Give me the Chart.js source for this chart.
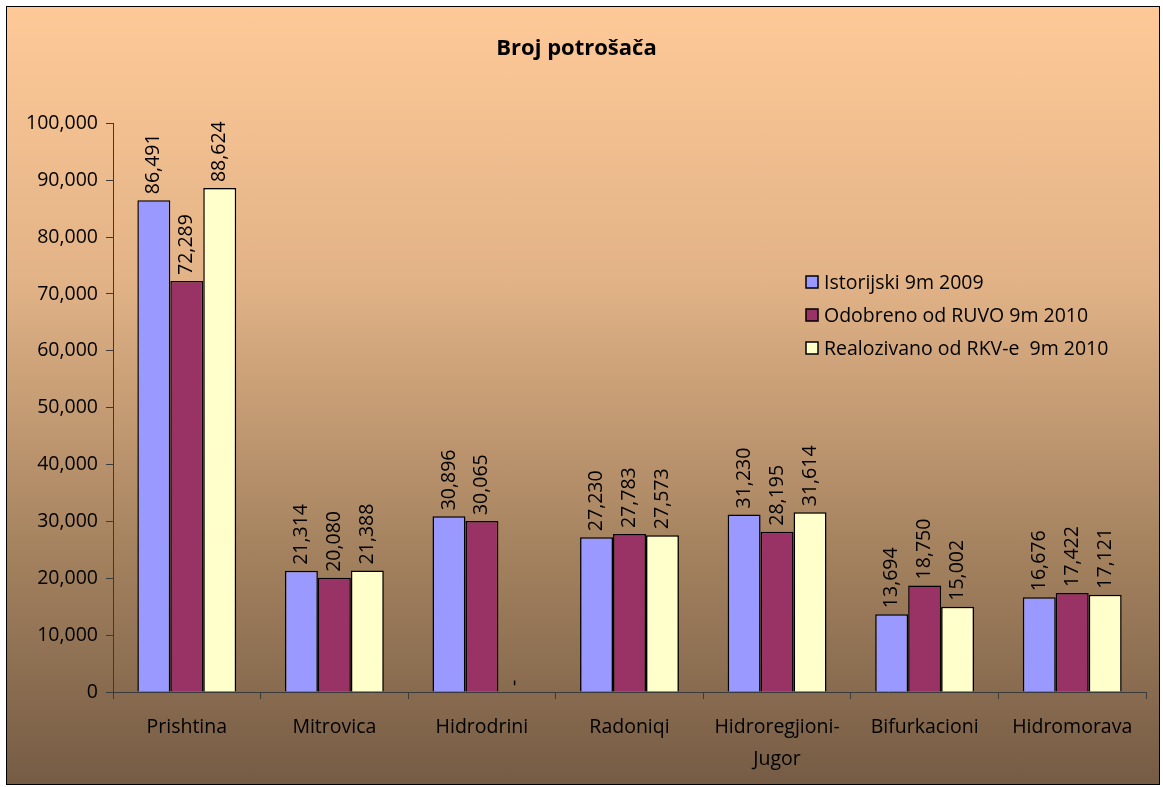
<!DOCTYPE html>
<html>
<head>
<meta charset="utf-8">
<script src="https://cdn.jsdelivr.net/npm/chart.js@4.4.0/dist/chart.umd.min.js"></script>
<style>
  html, body { margin: 0; padding: 0; background: #fff; }
  #box {
    position: absolute; left: 6px; top: 6px;
    width: 1152px; height: 777px;
    border: 1px solid #000;
    background: linear-gradient(to bottom, #fec997 0%, #e2b387 35%, #a4825f 70%, #765c45 100%);
  }
  canvas { display: block; }
</style>
</head>
<body>
<div id="box"><canvas id="chart" width="1152" height="777"></canvas></div>
<script>
// kategorije i vrijednosti
const categories = ['Prishtina', 'Mitrovica', 'Hidrodrini', 'Radoniqi', ['Hidroregjioni-', 'Jugor'], 'Bifurkacioni', 'Hidromorava'];
const seriesNames = ['Istorijski 9m 2009', 'Odobreno od RUVO 9m 2010', 'Realozivano od RKV-e  9m 2010'];
const istorijski = [86491, 21314, 30896, 27230, 31230, 13694, 16676];
const odobreno = [72289, 20080, 30065, 27783, 28195, 18750, 17422];
const realizovano = [88624, 21388, null, 27573, 31614, 15002, 17121];
const colors = ['#9999ff', '#993366', '#ffffcc'];

const FONT = '"Open Sans", "Noto Sans", sans-serif';
const FS = 19.5;

// oznake vrijednosti iznad stubaca (rotirano)
const valueLabels = {
  id: 'valueLabels',
  afterDatasetsDraw(chart) {
    const ctx = chart.ctx;
    const yScale = chart.scales.y;
    ctx.save();
    ctx.font = FS + 'px ' + FONT;
    ctx.fillStyle = '#000';
    ctx.textAlign = 'left';
    ctx.textBaseline = 'middle';
    chart.data.datasets.forEach((ds, di) => {
      chart.getDatasetMeta(di).data.forEach((bar, i) => {
        const v = ds.data[i];
        const top = v == null ? yScale.getPixelForValue(0) : bar.y;
        const text = v == null ? '-' : v.toLocaleString('en-US');
        ctx.save();
        ctx.translate(bar.x, top - 6);
        ctx.rotate(-Math.PI / 2);
        ctx.fillText(text, 0, 0);
        ctx.restore();
      });
    });
    ctx.restore();
  }
};

// legenda unutar grafikona
const innerLegend = {
  id: 'innerLegend',
  afterDraw(chart) {
    const ctx = chart.ctx;
    ctx.save();
    ctx.font = FS + 'px ' + FONT;
    ctx.textBaseline = 'middle';
    chart.data.datasets.forEach((ds, i) => {
      const x = 799, y = 275 + i * 33;
      ctx.fillStyle = ds.backgroundColor;
      ctx.fillRect(x, y - 6, 12, 12);
      ctx.strokeStyle = '#000';
      ctx.lineWidth = 1.5;
      ctx.strokeRect(x, y - 6, 12, 12);
      ctx.fillStyle = '#000';
      ctx.fillText(ds.label, x + 18, y + 1);
    });
    ctx.restore();
  }
};

new Chart(document.getElementById('chart'), {
  type: 'bar',
  data: {
    labels: categories,
    datasets: [istorijski, odobreno, realizovano].map((d, i) => ({
      label: seriesNames[i],
      data: d,
      backgroundColor: colors[i],
      borderColor: '#000',
      borderWidth: 1.5,
      categoryPercentage: 0.67,
      barPercentage: 1.0
    }))
  },
  options: {
    responsive: false,
    animation: false,
    layout: { padding: { left: 0, right: 13, top: 0, bottom: 0 } },
    plugins: {
      legend: { display: false },
      tooltip: { enabled: false },
      title: {
        display: true,
        text: 'Broj potrošača',
        color: '#000',
        font: { family: FONT, size: 22, weight: 'bold' },
        padding: { top: 29, bottom: 61 }
      }
    },
    scales: {
      x: {
        grid: { display: true, drawOnChartArea: false, offset: true, color: '#3a3a3a', tickLength: 7 },
        border: { color: '#3a3a3a', width: 1 },
        ticks: { color: '#000', font: { family: FONT, size: FS, lineHeight: 1.65 }, padding: 12, maxRotation: 0 },
        afterFit(scale) { scale.height = 92; }
      },
      y: {
        min: 0, max: 100000,
        grid: { display: true, drawOnChartArea: false, color: '#3a3a3a', tickLength: 7 },
        border: { color: '#3a3a3a', width: 1 },
        ticks: {
          stepSize: 10000, color: '#000', padding: 8,
          font: { family: FONT, size: FS },
          callback: v => v.toLocaleString('en-US')
        },
        afterFit(scale) { scale.width = 106; }
      }
    }
  },
  plugins: [valueLabels, innerLegend]
});
</script>
</body>
</html>
